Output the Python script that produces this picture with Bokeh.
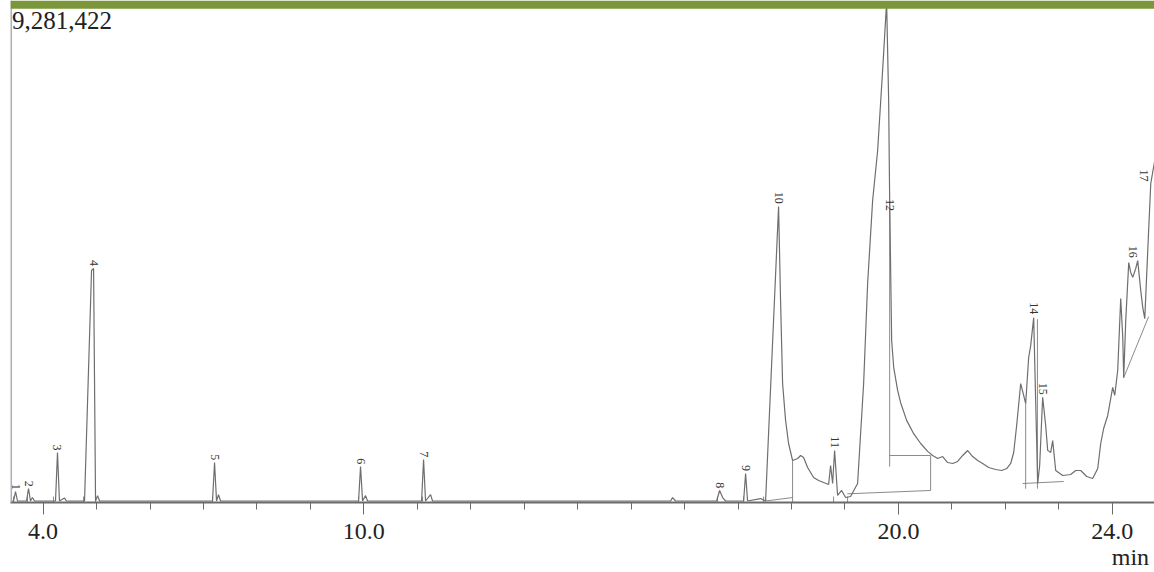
import math
from bokeh.plotting import figure
from bokeh.models import (Range1d, FixedTicker, PrintfTickFormatter, Span, Label,
                          BoxAnnotation, LinearAxis)
from bokeh.core.properties import value
from bokeh.embed import file_html
from bokeh.resources import INLINE

# Chromatogram trace: retention time (min) and intensity (% of full scale 9,281,422)
time_min = [3.390, 3.446, 3.484, 3.521, 3.689, 3.727, 3.764, 3.801, 3.839,
            4.232, 4.269, 4.306, 4.400, 4.437, 4.775, 4.906, 4.944, 4.981, 5.019, 5.056,
            7.169, 7.207, 7.244, 7.281, 7.319, 9.901, 9.938, 9.976, 10.032, 10.069,
            11.080, 11.117, 11.154, 11.248, 11.285, 15.738, 15.775, 15.832,
            16.599, 16.655, 16.711, 16.767, 17.104, 17.141, 17.178, 17.421, 17.515,
            17.758, 17.795, 17.833, 17.889, 17.945, 18.020, 18.114, 18.170, 18.226,
            18.301, 18.413, 18.507, 18.600, 18.694, 18.731, 18.769, 18.806, 18.862,
            18.937, 19.012, 19.105, 19.236, 19.349, 19.424, 19.517, 19.611, 19.704,
            19.779, 19.817, 19.836, 19.873, 19.911, 19.985, 20.041, 20.154, 20.285,
            20.416, 20.547, 20.640, 20.734, 20.827, 20.921, 21.015, 21.108, 21.202,
            21.295, 21.389, 21.482, 21.576, 21.688, 21.819, 21.931, 22.025, 22.100,
            22.156, 22.212, 22.287, 22.343, 22.380, 22.436, 22.474, 22.530, 22.567,
            22.605, 22.642, 22.698, 22.754, 22.792, 22.848, 22.885, 22.942, 23.073,
            23.222, 23.316, 23.410, 23.522, 23.634, 23.728, 23.784, 23.840, 23.915,
            24.008, 24.046, 24.102, 24.158, 24.196, 24.214, 24.252, 24.308, 24.345,
            24.383, 24.439, 24.476, 24.533, 24.570, 24.608, 24.664, 24.720, 24.795]
intensity_pct = [0.0, 0.0, 1.93, 0.0, 0.0, 2.54, 0.0, 0.7, 0.0,
                 0.0, 9.87, 0.0, 0.6, 0.0, 0.0, 46.9, 47.3, 0.0, 1.1, 0.0,
                 0.0, 7.83, 0.0, 1.3, 0.0, 0.0, 7.02, 0.0, 1.1, 0.0,
                 0.0, 8.44, 0.0, 1.3, 0.0, 0.0, 0.7, 0.0,
                 0.0, 2.14, 0.7, 0.0, 0.0, 5.6, 0.0, 0.5, 0.0,
                 59.9, 40.8, 23.9, 16.4, 11.7, 8.24, 8.65, 9.26, 8.85,
                 6.82, 4.78, 4.17, 3.76, 3.36, 7.22, 3.56, 10.27, 1.12,
                 2.14, 0.71, 0.92, 3.56, 23.9, 44.3, 61.1, 71.3, 87.6,
                 101.5, 81.5, 61.1, 32.7, 27.2, 22.5, 20.0, 16.4, 13.7,
                 11.7, 10.1, 9.26, 8.65, 9.05, 7.83, 7.63, 8.04, 9.26,
                 10.27, 9.05, 8.24, 7.63, 6.82, 6.41, 6.21, 6.61, 7.63,
                 9.87, 15.4, 23.9, 21.5, 19.8, 29.2, 31.6, 37.3, 20.4,
                 3.56, 7.22, 21.1, 15.4, 10.3, 9.87, 12.3, 6.21, 5.19,
                 5.39, 6.21, 6.21, 4.98, 4.58, 6.61, 11.7, 14.8, 17.4,
                 23.1, 21.5, 26.6, 41.2, 33.3, 25.1, 36.7, 48.5, 46.5,
                 45.5, 47.3, 48.9, 42.8, 39.4, 37.1, 51.0, 64.6, 69.3]

# Peak numbers and where their labels sit
peak_ids = ["1", "2", "3", "4", "5", "6", "7", "8", "9", "10", "11", "12", "14", "15", "16", "17"]
peak_time = [3.484, 3.727, 4.269, 4.944, 7.207, 9.938, 11.117, 16.655, 17.141, 17.758,
             18.806, 19.836, 22.530, 22.698, 24.383, 24.589]
peak_top = [2.3, 2.9, 10.3, 47.8, 8.3, 7.5, 8.9, 2.6, 6.1, 60.5,
            10.8, 59.0, 38.0, 21.6, 49.5, 65.0]

# Integration start/end markers (min)
marker_time = [3.446, 3.708, 4.194, 4.756, 4.981, 7.169, 9.901, 11.098,
               16.617, 17.104, 17.478, 18.020, 18.787, 19.049]

# Integration baselines / drop lines (min, %)
seg_t0 = [17.515, 18.020, 19.043, 20.602, 19.836, 19.836, 22.324, 22.380, 22.600, 24.214]
seg_y0 = [0.0, 0.7, 1.46, 2.14, 9.26, 7.0, 3.56, 2.5, 2.5, 25.1]
seg_t1 = [18.020, 18.020, 20.602, 20.602, 20.602, 19.836, 23.091, 22.380, 22.600, 24.680]
seg_y1 = [0.7, 8.24, 2.14, 9.26, 9.26, 61.1, 3.97, 19.8, 37.0, 37.5]

full_scale = "9,281,422"
major_ticks = [4, 10, 20, 24]
minor_ticks = [4, 5, 6, 7, 8, 9, 10, 11, 12, 13, 14, 15, 16, 17, 18, 19, 20, 21, 22, 23, 24]
unit_tick = 24.34
unit_text = "min"

SERIF = "Liberation Serif"
AXIS_GREY = "#6a6a6a"

p = figure(width=1154, height=572, output_backend="svg", toolbar_location=None,
           x_range=Range1d(3.39, 24.79), y_range=Range1d(-0.305, 101.83),
           y_axis_location=None, x_axis_location=None,
           min_border_left=10, min_border_right=0, min_border_top=0, min_border_bottom=70)
p.outline_line_color = None
p.xgrid.visible = False
p.ygrid.visible = False
p.background_fill_color = "white"
p.border_fill_color = "white"

ax = LinearAxis(ticker=FixedTicker(ticks=major_ticks, minor_ticks=minor_ticks),
                formatter=PrintfTickFormatter(format="%.1f"))
ax.axis_line_color = AXIS_GREY
ax.axis_line_width = 2
ax.major_tick_line_color = AXIS_GREY
ax.major_tick_in = 0
ax.major_tick_out = 12
ax.minor_tick_line_color = AXIS_GREY
ax.minor_tick_in = 0
ax.minor_tick_out = 7
ax.major_label_standoff = 9
ax.major_label_text_font = SERIF
ax.major_label_text_font_size = "24px"
ax.major_label_text_color = "#222222"
p.add_layout(ax, "below")

unit_ax = LinearAxis(ticker=FixedTicker(ticks=[unit_tick], minor_ticks=[]),
                     major_label_overrides={unit_tick: unit_text})
unit_ax.axis_line_color = None
unit_ax.major_tick_line_color = None
unit_ax.minor_tick_line_color = None
unit_ax.major_tick_in = 0
unit_ax.major_tick_out = 0
unit_ax.major_label_standoff = 2
unit_ax.major_label_text_font = SERIF
unit_ax.major_label_text_font_size = "24px"
unit_ax.major_label_text_color = "#222222"
p.add_layout(unit_ax, "below")

# y axis line (left)
p.add_layout(Span(location=3.40, dimension="height", line_color="#b0b0b0", line_width=2))

# integration markers
p.segment(x0=marker_time, y0=[-0.305] * len(marker_time), x1=marker_time, y1=[0.9] * len(marker_time),
          line_color="#8a8a8a", line_width=1)

# integration baselines
p.segment(x0=seg_t0, y0=seg_y0, x1=seg_t1, y1=seg_y1, line_color="#8a8a8a", line_width=1)

# trace
p.line(time_min, intensity_pct, line_color="#6e6e6e", line_width=1.2)

# peak labels
p.text(x=peak_time, y=peak_top, text=peak_ids, angle=-math.pi / 2,
       text_align="right", text_baseline="middle",
       text_font=value(SERIF), text_font_size="12px", text_color="#333333")

# green title band at the top
p.add_layout(BoxAnnotation(bottom=100.15, fill_color="#7a9638", fill_alpha=1.0, line_color=None))

p.add_layout(Label(x=3.42, y=100, y_offset=-3, text=full_scale, text_baseline="top",
                   text_align="left", text_font=SERIF, text_font_size="25px", text_color="#222222"))

html = file_html(p, INLINE)
open("out.html", "w").write(html)
